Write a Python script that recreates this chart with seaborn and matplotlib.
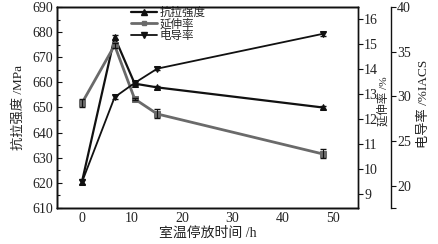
import matplotlib
matplotlib.use("Agg")
import matplotlib.pyplot as plt
import seaborn as sns
import pandas as pd
from matplotlib.lines import Line2D
from matplotlib.ticker import MultipleLocator, FixedLocator

hours = [0, 6.5, 10.5, 15, 48]
strength = [620.5, 678.0, 659.5, 658.0, 650.0]
strength_err = [1.0, 0.8, 0.6, 0.5, 0.6]
elongation = [12.64, 14.95, 12.8, 12.2, 10.6]
elongation_err = [0.15, 0.1, 0.05, 0.18, 0.18]
conductivity = [20.4, 29.9, 31.5, 33.1, 37.0]
conductivity_err = [0.2, 0.2, 0.2, 0.2, 0.2]
labels = ["抗拉强度", "延伸率", "电导率"]

sns.set_theme(style="white")
plt.rcParams['font.family'] = ['Liberation Serif', 'Noto Sans CJK SC']
plt.rcParams['axes.unicode_minus'] = False

fig = plt.figure(figsize=(4.38, 2.44), dpi=100)
ax = fig.add_axes([0.130, 0.148, 0.687, 0.823])
ax2 = ax.twinx()
ax3 = ax.twinx()

df = pd.DataFrame({"h": hours, "s": strength, "e": elongation, "c": conductivity})
black = "#111111"
gray = "#6a6a6a"
txt = "#222222"
fs = 10

sns.lineplot(data=df, x="h", y="s", ax=ax, color=black, marker="^", markersize=5,
             lw=1.6, markeredgecolor=black, zorder=3)
ax.errorbar(hours, strength, yerr=strength_err, fmt="none", ecolor=black, capsize=2, lw=0.8)
sns.lineplot(data=df, x="h", y="e", ax=ax2, color=gray, marker="s", markersize=4,
             lw=2.0, markeredgecolor=gray)
ax2.errorbar(hours, elongation, yerr=elongation_err, fmt="none", ecolor=black, capsize=2, lw=0.8)
sns.lineplot(data=df, x="h", y="c", ax=ax3, color=black, marker="v", markersize=5,
             lw=1.3, markeredgecolor=black)
ax3.errorbar(hours, conductivity, yerr=conductivity_err, fmt="none", ecolor=black, capsize=2, lw=0.8)

ax.set_xlim(-5, 55)
ax.set_ylim(610, 690)
ax2.set_ylim(8.44, 16.48)
ax3.set_ylim(17.5, 40)

for a in (ax, ax2, ax3):
    for sp in a.spines.values():
        sp.set_color(black)
        sp.set_linewidth(1.0)

ax.xaxis.set_major_locator(MultipleLocator(10))
ax.xaxis.set_minor_locator(MultipleLocator(5))
ax.yaxis.set_major_locator(MultipleLocator(10))
ax.yaxis.set_minor_locator(MultipleLocator(5))
ax.tick_params(axis="both", which="both", direction="in", labelsize=fs, colors=black,
               labelcolor=txt, pad=3)
ax.tick_params(which="major", length=3.5, width=0.8)
ax.tick_params(which="minor", length=2, width=0.8)
ax.tick_params(axis="x", which="both", top=False)
ax.tick_params(axis="y", which="both", right=False)

ax2.yaxis.set_major_locator(MultipleLocator(1))
ax2.tick_params(axis="y", direction="out", labelsize=fs, colors=black, labelcolor=txt,
                length=3.5, width=0.8, pad=1)

ax3.spines["right"].set_position(("axes", 1.109))
ax3.yaxis.set_major_locator(MultipleLocator(5))
ax3.yaxis.set_minor_locator(FixedLocator([17.5]))
ax3.tick_params(axis="y", which="both", direction="out", labelsize=fs, colors=black,
                labelcolor=txt, width=0.8, pad=1)
ax3.tick_params(axis="y", which="major", length=3.5)
ax3.tick_params(axis="y", which="minor", length=3.5)

ax.set_xlabel("室温停放时间 /h", fontsize=fs, color=txt, labelpad=1)
ax.set_ylabel("抗拉强度 /MPa", fontsize=9.5, color=txt)
ax.yaxis.set_label_coords(-0.106, 0.5)
ax2.set_ylabel("延伸率 /%", fontsize=8.2, color=txt)
ax2.yaxis.set_label_coords(1.066, 0.53)
ax3.set_ylabel("电导率 /%IACS", fontsize=9.5, color=txt)
ax3.yaxis.set_label_coords(1.2, 0.52)

handles = [
    Line2D([], [], color=black, lw=1.6, marker="^", markersize=4),
    Line2D([], [], color=gray, lw=2.0, marker="s", markersize=3.5),
    Line2D([], [], color=black, lw=1.3, marker="v", markersize=4),
]
ax.legend(handles, labels, loc="upper left", bbox_to_anchor=(0.245, 1.0), frameon=False,
          handlelength=2.3, handletextpad=0.2, labelspacing=-0.05,
          borderaxespad=0.0, borderpad=0.0, prop={'size': 8.3})

for a in (ax2, ax3):
    a.set_xlabel("")
fig.savefig("out.png", dpi=100, facecolor="white")
